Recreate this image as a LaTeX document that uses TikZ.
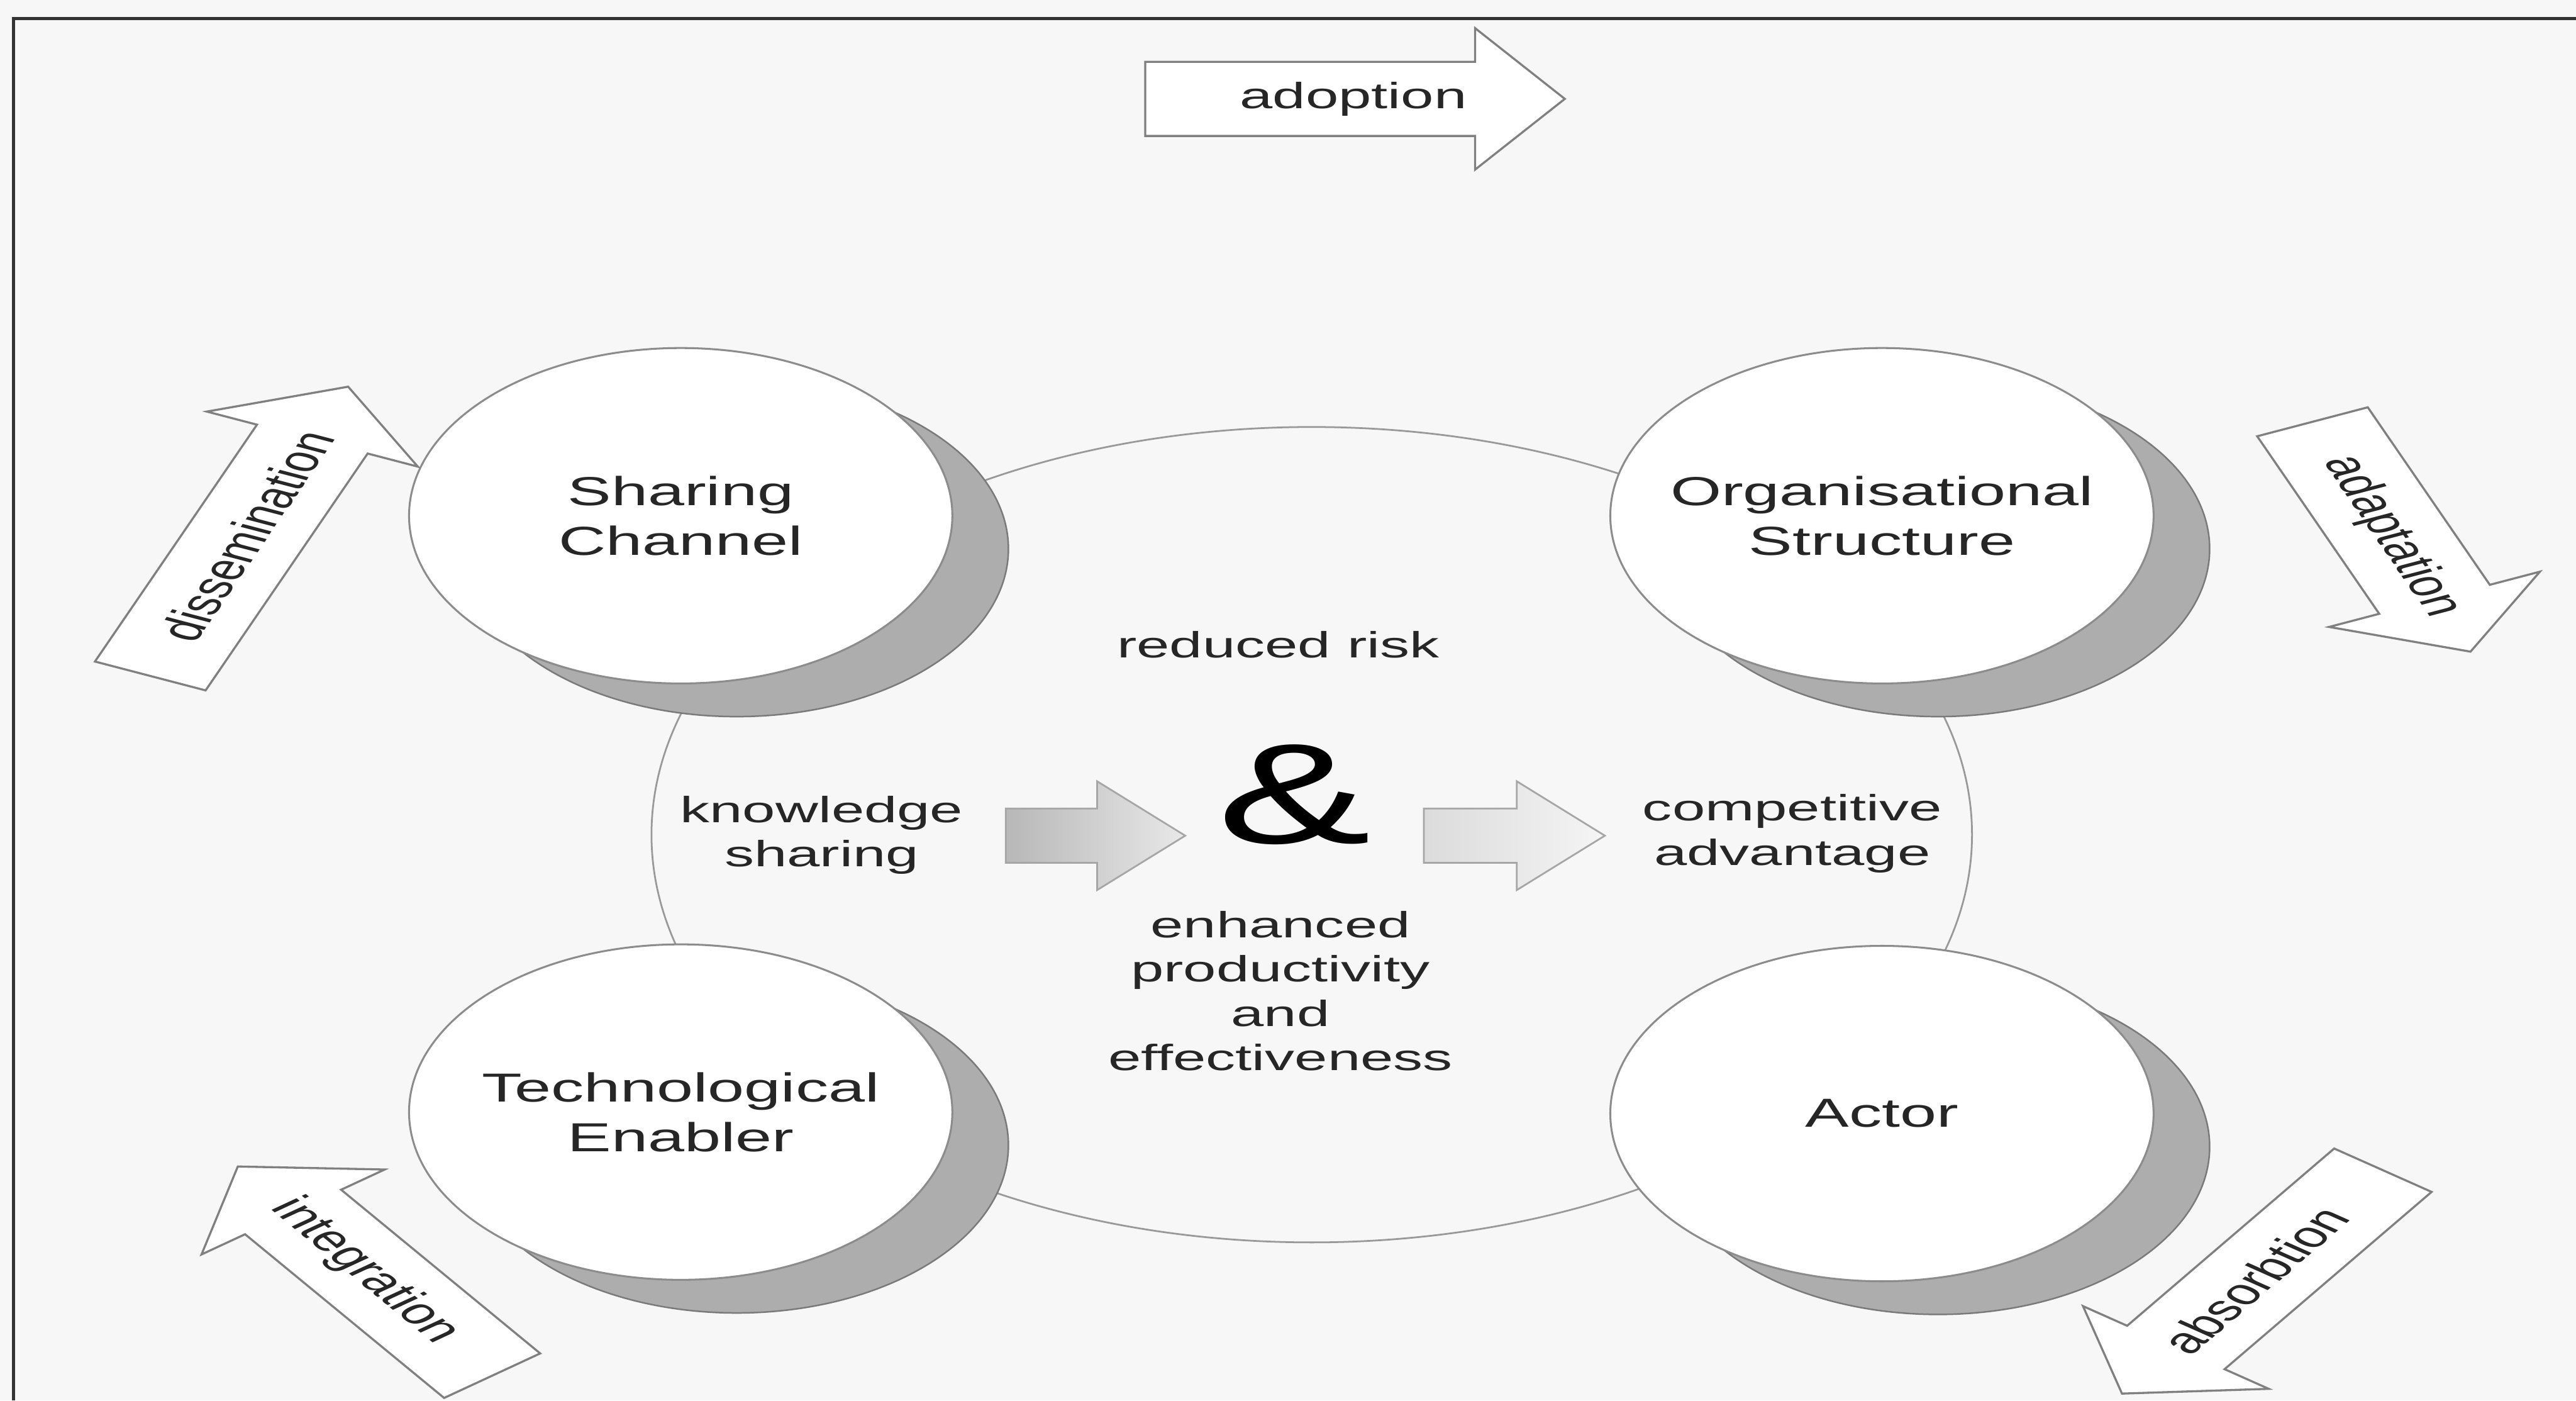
\documentclass[tikz,border=0pt]{standalone}
\usepackage{fontspec}
\setmainfont{Liberation Sans}
\begin{document}
% Working units: 1 = 0.01cm; the whole drawing is stretched horizontally by 1.62
\begin{tikzpicture}[x=0.01cm, y=0.01cm, xscale=1.62, transform shape,
  frameline/.style={draw=black!80, line width=1.8pt},
  orb/.style={circle, draw=black!45, line width=1.1pt, fill=white,
    minimum size=6.78cm, inner sep=0pt, align=center,
    font=\fontsize{23.3}{28.4}\selectfont, text=black!85},
  orbshade/.style={circle, draw=black!52, line width=0.9pt, fill=black!32,
    minimum size=6.78cm, inner sep=0pt},
  core/.style={circle, draw=black!40, line width=1pt, minimum size=16.48cm, inner sep=0pt},
  txt/.style={align=center, inner sep=0pt, text=black!85,
    font=\fontsize{21}{25.5}\selectfont},
  amp/.style={inner sep=0pt, text=black, font=\fontsize{82}{82}\selectfont},
  flowarrow/.style={draw=black!50, line width=1.2pt, fill=white, line join=miter},
  innerarrow/.style={draw=black!35, line width=1pt, line join=miter}
]
\useasboundingbox (0,0) rectangle (3216.7,2832);
\fill[black!3] (0,0) rectangle (3216.7,2832);

% page frame
\draw[frameline] (3216.7,2794) -- (16.7,2794) -- (16.7,0);

% central region
\node[core] (core) at (1638,1144) {};

% four orbs with their shadows
\node[orbshade] (SCshade) at (920,1722) {};
\node[orb] (SC) at (850,1789) {Sharing\\Channel};
\node[orbshade] (OSshade) at (2420,1722) {};
\node[orb] (OS) at (2350,1789) {Organisational\\Structure};
\node[orbshade] (TEshade) at (920,516) {};
\node[orb] (TE) at (850,583) {Technological\\Enabler};
\node[orbshade] (ACshade) at (2420,513) {};
\node[orb] (AC) at (2350,580) {Actor};

% central texts
\node[txt] (risk) at (1596,1528) {reduced risk};
\node[amp] (amp) at (1616,1225) {\&};
\node[txt] (ks) at (1026,1143) {knowledge\\sharing};
\node[txt] (ca) at (2238,1146) {competitive\\advantage};
\node[txt] (ep) at (1599,828) {enhanced\\productivity\\and\\effectiveness};

% central flow arrows
\draw[innerarrow, left color=black!28, right color=black!9]
  (1256,1087) -- (1370,1087) -- (1370,1032) -- (1480,1142) -- (1370,1252)
  -- (1370,1197) -- (1256,1197) -- cycle;
\draw[innerarrow, left color=black!14, right color=black!4]
  (1778,1087) -- (1894,1087) -- (1894,1032) -- (2004,1142) -- (1894,1252)
  -- (1894,1197) -- (1778,1197) -- cycle;

% adoption
\begin{scope}[shift={(1842,2632)}]
  \draw[flowarrow] (-412,-75) -- (0,-75) -- (0,-143) -- (112,0) -- (0,143) -- (0,75) -- (-412,75) -- cycle;
  \node[txt] (adoption) at (-152,0) {adoption};
\end{scope}

% dissemination
\begin{scope}[shift={(390,1944)}, rotate=67.1]
  \draw[flowarrow] (-520,-75) -- (0,-75) -- (0,-143) -- (115,0) -- (0,143) -- (0,75) -- (-520,75) -- cycle;
  \node[txt] (dissemination) at (-212,0) {dissemination};
\end{scope}

% adaptation
\begin{scope}[shift={(3040,1620)}, rotate=-67]
  \draw[flowarrow] (-390,-75) -- (0,-75) -- (0,-143) -- (115,0) -- (0,143) -- (0,75) -- (-390,75) -- cycle;
  \node[txt] (adaptation) at (-138,0) {adaptation};
\end{scope}

% integration
\begin{scope}[shift={(366,381)}, rotate=126.9]
  \draw[flowarrow] (-414,-75) -- (0,-75) -- (0,-143) -- (115,0) -- (0,143) -- (0,75) -- (-414,75) -- cycle;
  \node[txt, rotate=180] (integration) at (-149,0) {integration};
\end{scope}

% absorbtion
\begin{scope}[shift={(2717,107)}, rotate=234.2]
  \draw[flowarrow] (-442,-75) -- (0,-75) -- (0,-143) -- (115,0) -- (0,143) -- (0,75) -- (-442,75) -- cycle;
  \node[txt, rotate=180] (absorbtion) at (-168,0) {absorbtion};
\end{scope}
\end{tikzpicture}
\end{document}
